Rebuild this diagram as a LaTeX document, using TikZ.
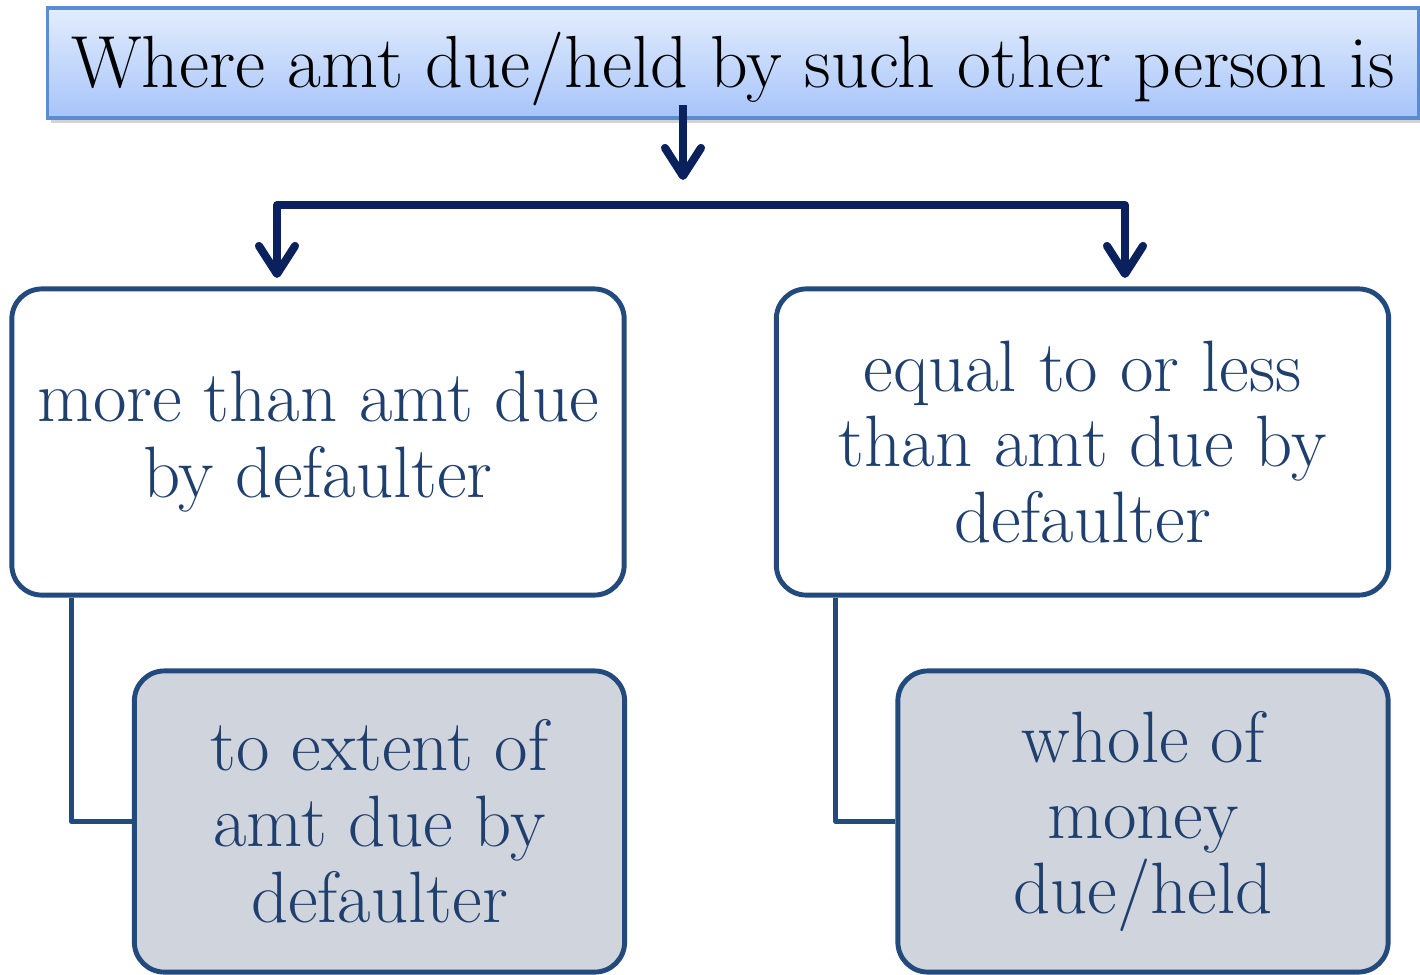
\documentclass[tikz,border=0pt]{standalone}
\usetikzlibrary{arrows.meta,shadows}
\definecolor{navy}{HTML}{0B215E}
\definecolor{boxline}{HTML}{234A7C}
\definecolor{boxtext}{HTML}{1F3F6E}
\definecolor{boxgray}{HTML}{D0D4DC}
\definecolor{topline}{HTML}{5B8BD0}
\definecolor{toptop}{HTML}{E3EDFD}
\definecolor{topbot}{HTML}{A6C4FA}

\begin{document}
\begin{tikzpicture}[x=0.01cm, y=-0.01cm,
  headbox/.style={draw=topline, line width=1pt, top color=toptop, bottom color=topbot,
    minimum width=13.7cm, minimum height=1.1cm, inner sep=0pt,
    drop shadow={shadow xshift=0.03cm, shadow yshift=-0.05cm, opacity=0.35},
    font=\fontsize{21}{24}\selectfont},
  casebox/.style={draw=boxline, line width=1.4pt, rounded corners=0.3cm, fill=white,
    text=boxtext, align=center, inner sep=0pt,
    minimum width=6.12cm, minimum height=3.06cm,
    font=\fontsize{20.7}{21.6}\selectfont},
  resbox/.style={casebox, fill=boxgray, minimum width=4.9cm, minimum height=3.01cm},
  arr/.style={navy, line width=2.3pt, line join=round,
    -{Straight Barb[length=0.28cm, width=0.36cm, round]}},
  link/.style={boxline, line width=1.4pt, line join=round}]
\useasboundingbox (0,0) rectangle (1420,975);

\node[headbox] (top) at (733,63) {\raisebox{-0.24cm}[0pt][0pt]{Where amt due/held by such other person is}};

\node[casebox] (more) at (318,442) {more than amt due\\by defaulter};
\node[casebox] (less) at (1082.5,442) {equal to or less\\than amt due by\\defaulter};
\node[resbox] (extent) at (379.5,821.5) {to extent of\\amt due by\\defaulter};
\node[resbox] (whole) at (1143,821.5) {whole of\\money\\due/held};

\coordinate (a0) at (683,105);
\coordinate (a1) at (683,180);
\coordinate (bar) at (683,205);
\coordinate (l) at (277,278);
\coordinate (r) at (1125,278);

\draw[arr] (a0) -- (a1);
\draw[arr] (bar) -| (l);
\draw[arr] (bar) -| (r);

\draw[link] ([xshift=0.62cm]more.south west) |- (extent.west);
\draw[link] ([xshift=0.62cm]less.south west) |- (whole.west);
\end{tikzpicture}
\end{document}
